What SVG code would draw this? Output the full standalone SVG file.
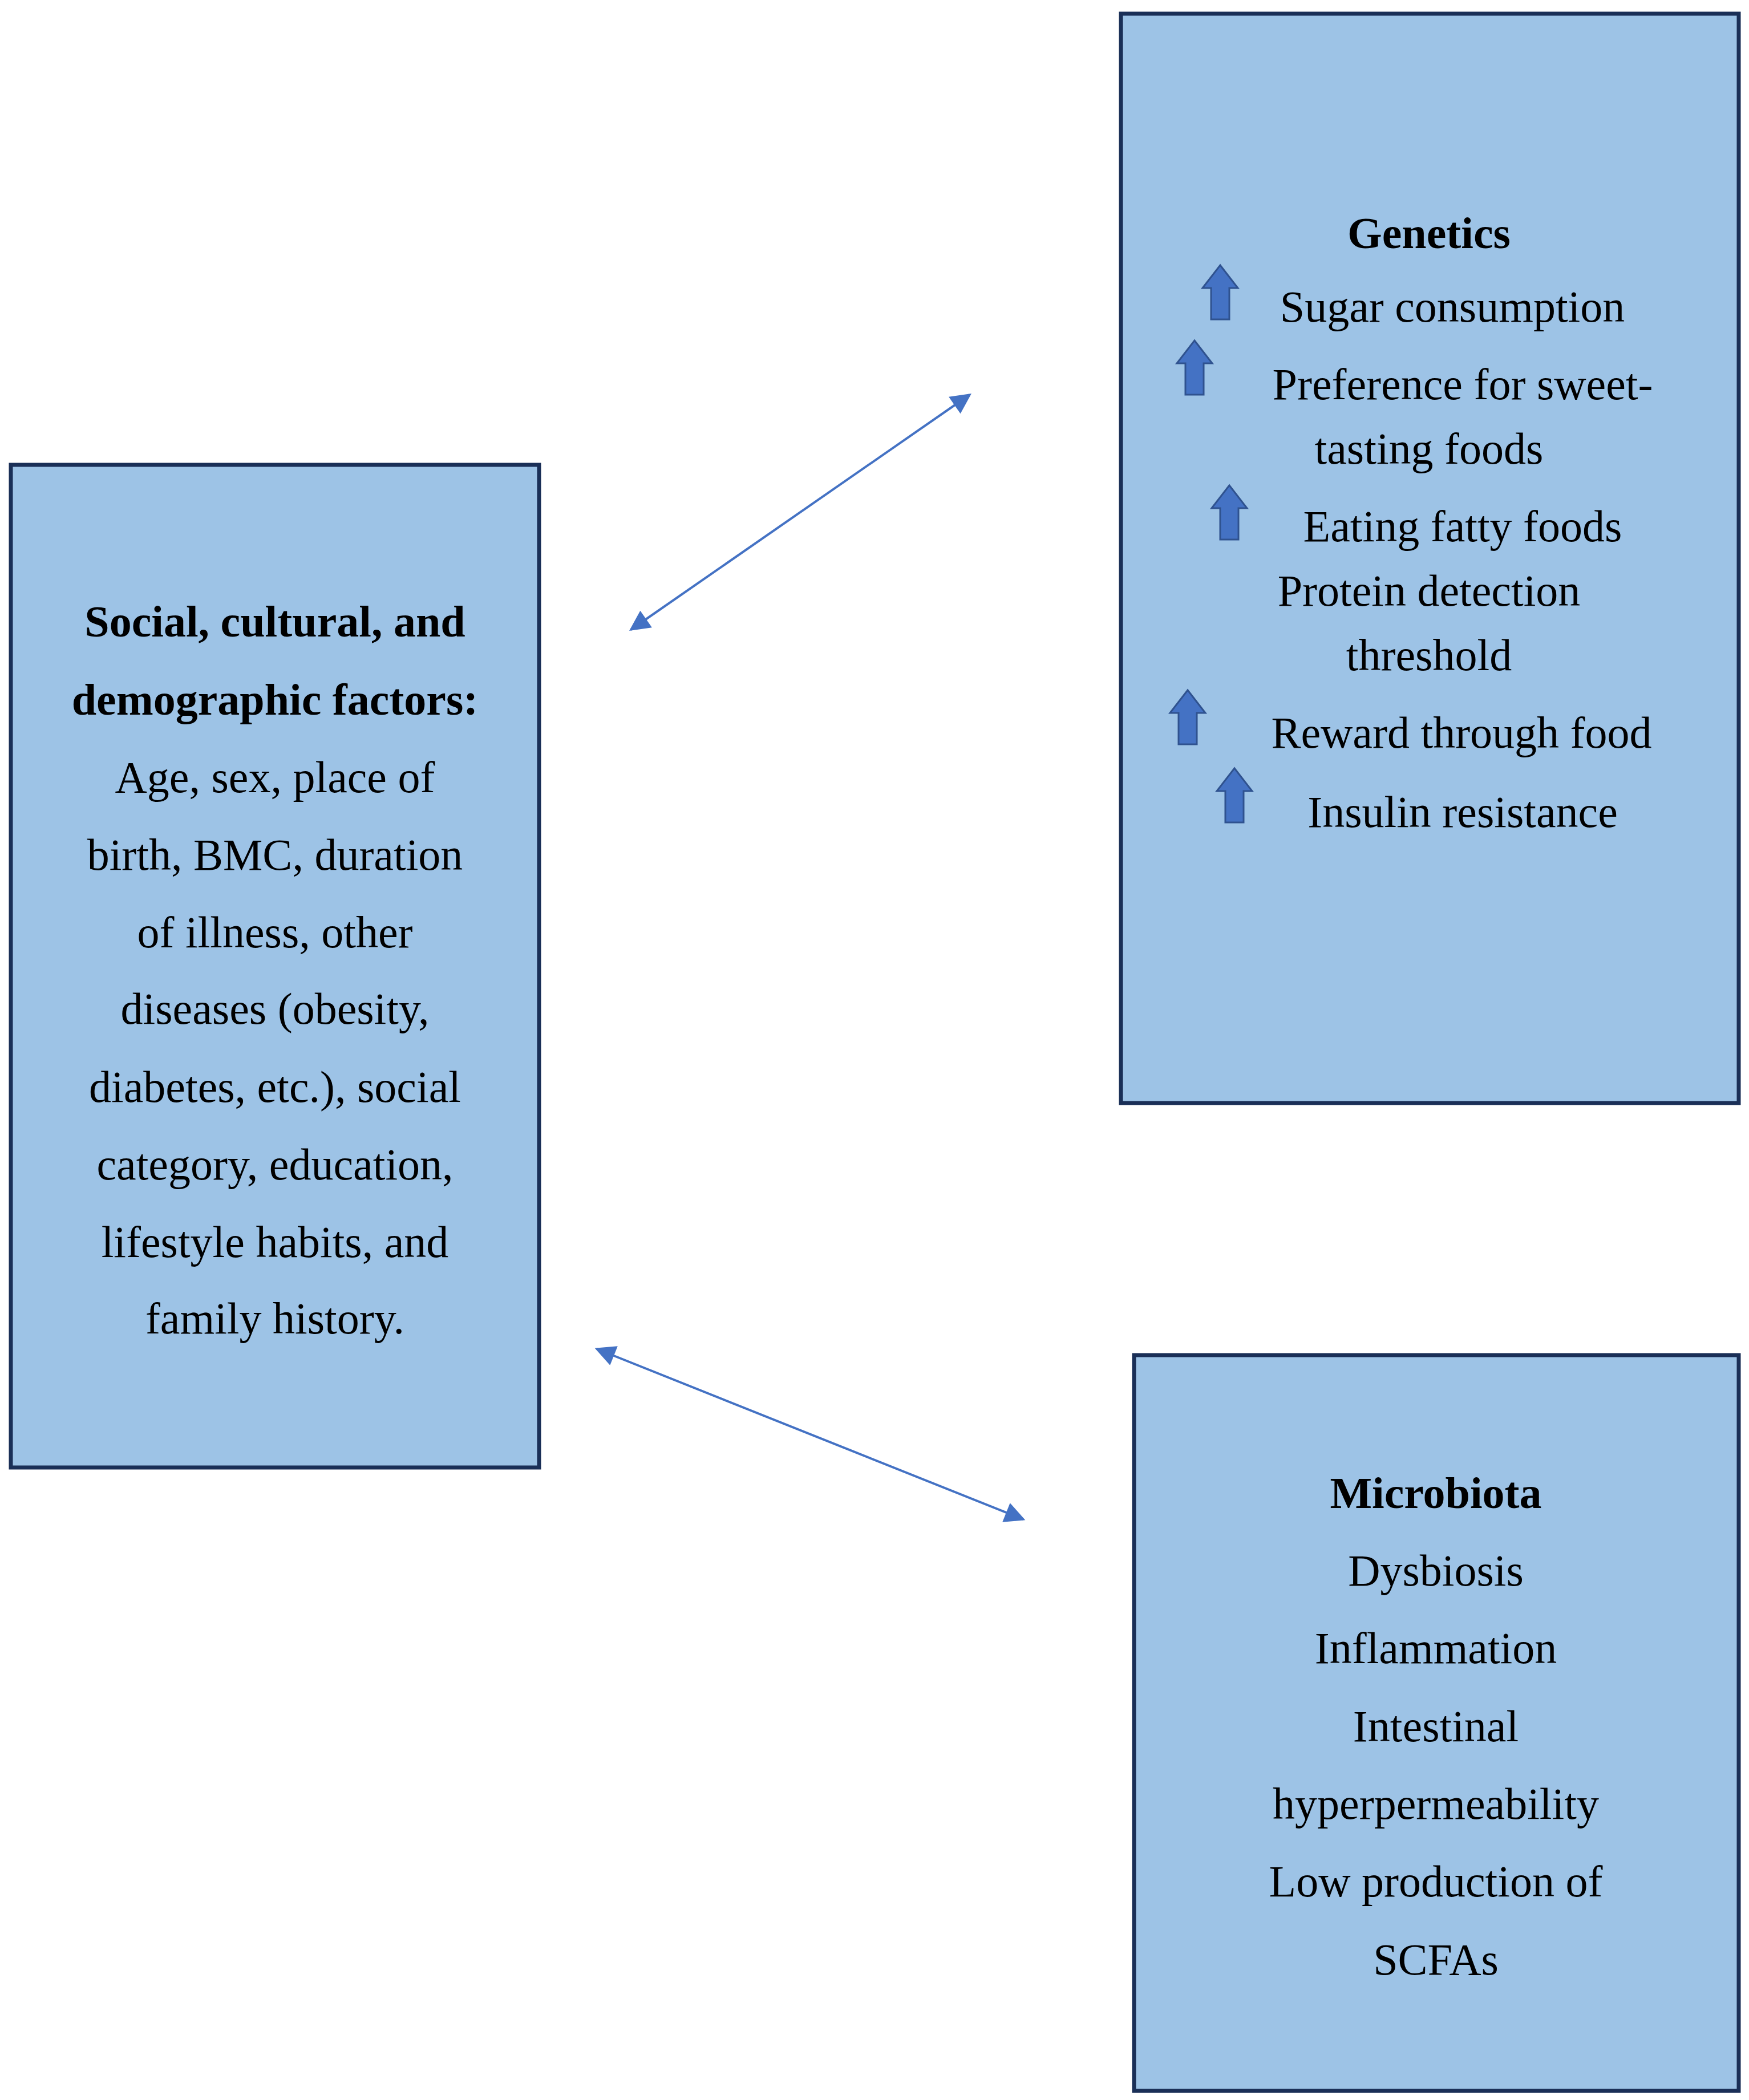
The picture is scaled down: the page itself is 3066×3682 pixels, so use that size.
<svg xmlns="http://www.w3.org/2000/svg" xmlns:xlink="http://www.w3.org/1999/xlink" width="3066" height="3682" viewBox="0 0 3066 3682">
<style>
.box{fill:#9dc3e6;stroke:#1a2f57;stroke-width:7}
text{font-family:"Liberation Serif","DejaVu Serif",serif;font-size:78px;fill:#000;text-anchor:middle}
.b{font-weight:bold}
.con{stroke:#4472c4;stroke-width:4;fill:none;marker-start:url(#ah);marker-end:url(#ah)}
</style>
<defs>
<marker id="ah" viewBox="0 0 10 10" refX="9" refY="5" markerWidth="11" markerHeight="9" orient="auto-start-reverse" markerUnits="strokeWidth"><path d="M0,0L10,5L0,10z" fill="#4472c4"/></marker>
<path id="up" d="M0,0L31,40L16,40L16,95L-16,95L-16,40L-31,40Z" fill="#4472c4" stroke="#2f528f" stroke-width="3"/>
</defs>
<g id="connectors">
<line class="con" x1="1106" y1="1104" x2="1700" y2="692"/>
<line class="con" x1="1046" y1="2365" x2="1794" y2="2664"/>
</g>
<g id="social">
<rect class="box" x="19" y="815" width="926" height="1758"/>
<text x="482" y="1116" class="b">Social, cultural, and</text>
<text x="482" y="1253" class="b">demographic factors:</text>
<text x="482" y="1389">Age, sex, place of</text>
<text x="482" y="1525">birth, BMC, duration</text>
<text x="482" y="1661">of illness, other</text>
<text x="482" y="1795">diseases (obesity,</text>
<text x="482" y="1932">diabetes, etc.), social</text>
<text x="482" y="2068">category, education,</text>
<text x="482" y="2204">lifestyle habits, and</text>
<text x="482" y="2338">family history.</text>
</g>
<g id="genetics">
<rect class="box" x="1965" y="24" width="1083" height="1910"/>
<text x="2505" y="435" class="b">Genetics</text>
<use xlink:href="#up" x="2139" y="465"/>
<text x="2546" y="564">Sugar consumption</text>
<use xlink:href="#up" x="2094" y="597"/>
<text x="2564" y="700">Preference for sweet-</text>
<text x="2505" y="813">tasting foods</text>
<use xlink:href="#up" x="2155" y="851"/>
<text x="2564" y="949">Eating fatty foods</text>
<text x="2505" y="1062">Protein detection</text>
<text x="2505" y="1175">threshold</text>
<use xlink:href="#up" x="2082" y="1210"/>
<text x="2562" y="1311">Reward through food</text>
<use xlink:href="#up" x="2164" y="1347"/>
<text x="2564" y="1450">Insulin resistance</text>
</g>
<g id="microbiota">
<rect class="box" x="1988" y="2376" width="1060" height="1290"/>
<text x="2517" y="2644" class="b">Microbiota</text>
<text x="2517" y="2780">Dysbiosis</text>
<text x="2517" y="2916">Inflammation</text>
<text x="2517" y="3053">Intestinal</text>
<text x="2517" y="3189">hyperpermeability</text>
<text x="2517" y="3325">Low production of</text>
<text x="2517" y="3462">SCFAs</text>
</g>
</svg>
